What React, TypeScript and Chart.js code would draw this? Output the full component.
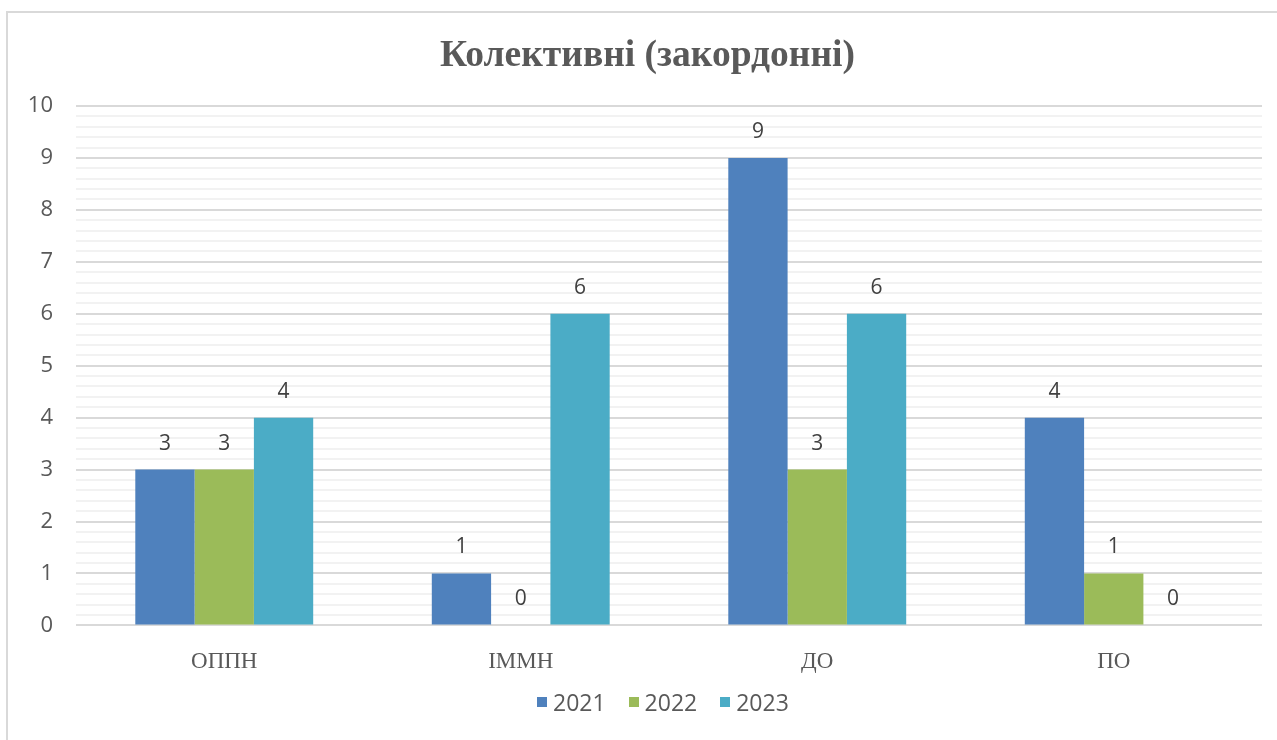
import React, { useEffect, useRef } from "react";
import { Chart, registerables } from "chart.js";

Chart.register(...registerables);

const categories = ["ОППН", "ІММН", "ДО", "ПО"];
const seriesNames = ["2021", "2022", "2023"];
const values2021 = [3, 1, 9, 4];
const values2022 = [3, 0, 3, 1];
const values2023 = [4, 6, 6, 0];
const seriesColors = ["#4F81BD", "#9BBB59", "#4BACC6"];
const titleText = "Колективні (закордонні)";

const dataLabelPlugin = {
  id: "dataLabels",
  afterDatasetsDraw(chart: any) {
    const ctx = chart.ctx;
    ctx.save();
    ctx.font = '21px "Open Sans", sans-serif';
    ctx.fillStyle = "#404040";
    ctx.textAlign = "center";
    ctx.textBaseline = "middle";
    chart.data.datasets.forEach((ds: any, i: number) => {
      const meta = chart.getDatasetMeta(i);
      meta.data.forEach((bar: any, j: number) => {
        ctx.fillText(String(ds.data[j]), bar.x, bar.y - 26);
      });
    });
    ctx.restore();
  },
};

const isInt = (v: number) => Math.abs(v - Math.round(v)) < 1e-6;

export default function App() {
  const ref = useRef<HTMLCanvasElement>(null);
  useEffect(() => {
    if (!ref.current) return;
    const chart = new Chart(ref.current, {
      type: "bar",
      data: {
        labels: categories,
        datasets: [values2021, values2022, values2023].map((d, i) => ({
          label: seriesNames[i],
          data: d,
          backgroundColor: seriesColors[i],
          borderWidth: 0,
          categoryPercentage: 0.6,
          barPercentage: 1.0,
        })),
      },
      options: {
        animation: false,
        responsive: false,
        devicePixelRatio: 1,
        layout: { padding: { left: 0, right: 15, top: 106, bottom: 41 } },
        plugins: {
          tooltip: { enabled: false },
          title: { display: false },
          legend: { display: false },
        },
        scales: {
          x: {
            grid: { display: false, drawTicks: false },
            border: { display: false },
            ticks: {
              color: "#595959",
              font: { family: '"Liberation Serif", serif', size: 23 },
              padding: 23,
            },
          },
          y: {
            min: 0,
            max: 10,
            border: { display: false },
            grid: {
              drawTicks: false,
              tickLength: 0,
              lineWidth: 2,
              color: (c: any) => (isInt(c.tick.value) ? "#d9d9d9" : "#f2f2f2"),
            },
            ticks: {
              stepSize: 0.2,
              autoSkip: false,
              padding: 23,
              color: "#595959",
              font: { family: '"Open Sans", sans-serif', size: 22 },
              callback: (v: any) => (isInt(Number(v)) ? String(Math.round(Number(v))) : ""),
            },
            afterFit: (s: any) => {
              s.width = 76;
            },
          },
        },
      },
      plugins: [dataLabelPlugin],
    });
    return () => chart.destroy();
  }, []);

  return (
    <div style={{ position: "fixed", left: 0, top: 0, width: 1277, height: 740, background: "#fff", overflow: "hidden" }}>
      <div
        style={{
          position: "absolute",
          left: 6,
          top: 11,
          width: 1300,
          height: 780,
          border: "2px solid #d9d9d9",
          boxSizing: "border-box",
        }}
      />
      <canvas ref={ref} width={1277} height={740} style={{ position: "absolute", left: 0, top: 0 }} />
      <div
        style={{
          position: "absolute",
          left: 440,
          width: 400,
          top: 32,
          height: 44,
          lineHeight: "44px",
          textAlign: "center",
          whiteSpace: "nowrap",
          fontFamily: '"Liberation Serif", serif',
          fontWeight: "bold",
          fontSize: 37.5,
          color: "#595959",
        }}
      >
        {titleText}
      </div>
      <div
        style={{
          position: "absolute",
          left: 537,
          top: 688,
          height: 28,
          display: "flex",
          alignItems: "center",
          fontFamily: '"Open Sans", sans-serif',
          fontSize: 23,
          color: "#595959",
          whiteSpace: "nowrap",
        }}
      >
        {seriesNames.map((n, i) => (
          <div key={n} style={{ display: "flex", alignItems: "center", marginRight: i < seriesNames.length - 1 ? 23 : 0 }}>
            <span style={{ display: "inline-block", width: 10, height: 10, background: seriesColors[i], marginRight: 6 }} />
            <span>{n}</span>
          </div>
        ))}
      </div>
    </div>
  );
}
